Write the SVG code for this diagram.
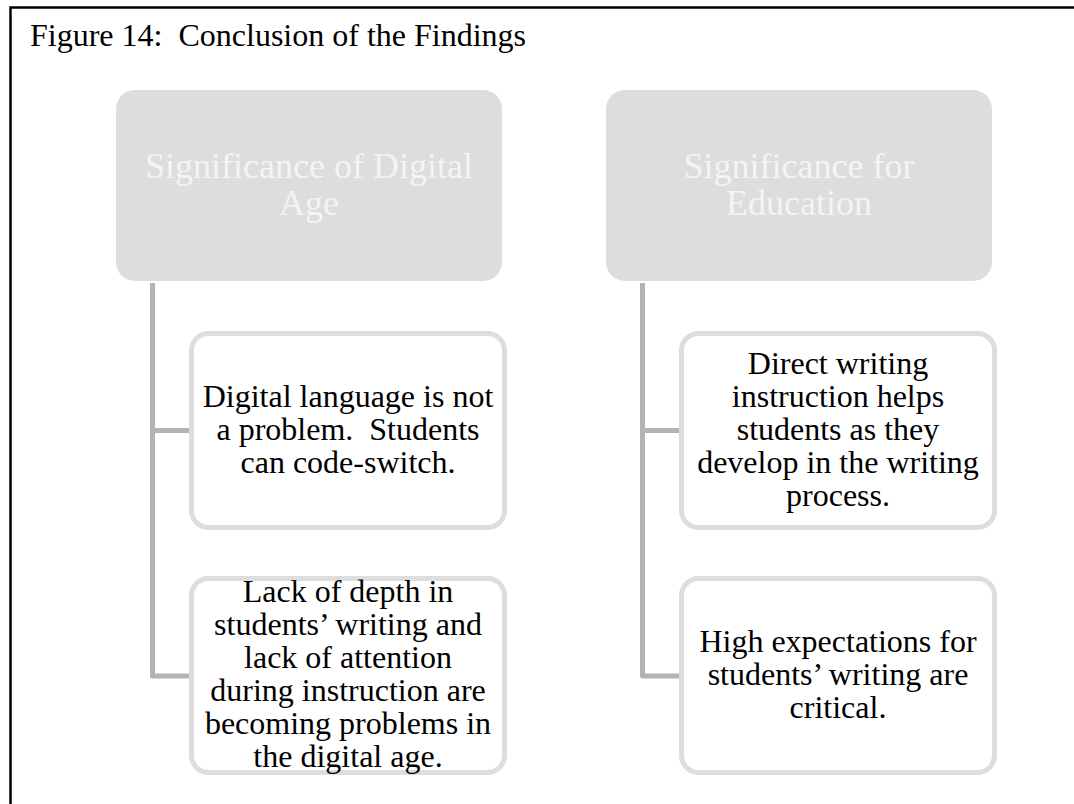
<svg xmlns="http://www.w3.org/2000/svg" width="1074" height="804" viewBox="0 0 1074 804">
<style>
.frame{fill:none;stroke:#000;stroke-width:2.5}
.title{font-family:"Liberation Serif","Times New Roman",serif;font-size:32px;fill:#000;white-space:pre}
.head{fill:#dddddd;stroke:none}
.headtxt{font-family:"Liberation Serif","Times New Roman",serif;font-size:36px;fill:#f4f4f4;text-anchor:middle}
.child{fill:#fff;stroke:#dddddd;stroke-width:5}
.childtxt{font-family:"Liberation Serif","Times New Roman",serif;font-size:32px;fill:#000;text-anchor:middle;white-space:pre}
.conn{fill:none;stroke:#b3b3b3;stroke-width:5;stroke-linejoin:round}
</style>
<rect x="0" y="0" width="1074" height="804" fill="#fff"/>
<path class="frame" d="M10.5,804 V7.5 H1074"/>
<text class="title" x="30" y="46" xml:space="preserve">Figure 14:  Conclusion of the Findings</text>

<g id="connectors">
  <path class="conn" d="M152.5,283 V676 H189 M152.5,430.5 H189"/>
  <path class="conn" d="M642.5,283 V676 H679 M642.5,430.5 H679"/>
</g>

<g id="head-digital">
  <rect class="head" x="116" y="90" width="386" height="191" rx="19"/>
  <text class="headtxt" x="309" y="178">Significance of Digital</text>
  <text class="headtxt" x="309" y="215">Age</text>
</g>
<g id="head-education">
  <rect class="head" x="606" y="90" width="386" height="191" rx="19"/>
  <text class="headtxt" x="799" y="178">Significance for</text>
  <text class="headtxt" x="799" y="215">Education</text>
</g>

<g id="child-digital-1">
  <rect class="child" x="191.5" y="333.5" width="313" height="194" rx="17"/>
  <text class="childtxt" x="348" y="407">Digital language is not</text>
  <text class="childtxt" x="348" y="440" xml:space="preserve">a problem.  Students</text>
  <text class="childtxt" x="348" y="473">can code-switch.</text>
</g>
<g id="child-digital-2">
  <rect class="child" x="191.5" y="578.5" width="313" height="194" rx="17"/>
  <text class="childtxt" x="348" y="602">Lack of depth in</text>
  <text class="childtxt" x="348" y="635">students’ writing and</text>
  <text class="childtxt" x="348" y="668">lack of attention</text>
  <text class="childtxt" x="348" y="701">during instruction are</text>
  <text class="childtxt" x="348" y="734">becoming problems in</text>
  <text class="childtxt" x="348" y="767">the digital age.</text>
</g>
<g id="child-education-1">
  <rect class="child" x="681.5" y="333.5" width="313" height="194" rx="17"/>
  <text class="childtxt" x="838" y="374">Direct writing</text>
  <text class="childtxt" x="838" y="407">instruction helps</text>
  <text class="childtxt" x="838" y="440">students as they</text>
  <text class="childtxt" x="838" y="473">develop in the writing</text>
  <text class="childtxt" x="838" y="506">process.</text>
</g>
<g id="child-education-2">
  <rect class="child" x="681.5" y="578.5" width="313" height="194" rx="17"/>
  <text class="childtxt" x="838" y="652">High expectations for</text>
  <text class="childtxt" x="838" y="685">students’ writing are</text>
  <text class="childtxt" x="838" y="718">critical.</text>
</g>
</svg>
